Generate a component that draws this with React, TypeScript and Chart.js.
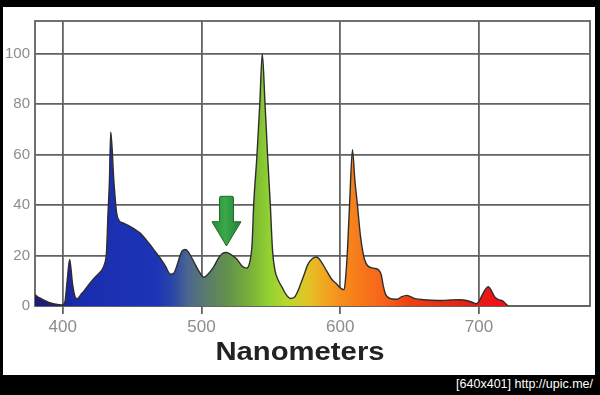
import React, { useEffect, useRef } from "react";
import { Chart, registerables } from "chart.js";

Chart.register(...registerables);

// ---- data ----
const wavelengths = [
  380, 383, 386.5, 390, 394, 399.5, 401.5, 403, 405, 407, 409, 410.5, 413, 415.5, 420, 424, 427.5, 430,
  431.6, 432.6, 433.6, 434.6, 436.9, 438.8, 440.5, 444, 449, 453, 456, 460, 463.5, 467, 470.5, 474,
  477.7, 480, 482, 484, 486, 488.5, 491, 494.5, 499, 501.7, 505, 508.8, 512, 515, 518, 521, 525.6,
  529, 532.5, 535, 536.5, 537.6, 540, 542, 543.8, 545.8, 547.6, 549.6, 551.2, 553, 555.5, 558, 561,
  564, 567, 569.5, 571.5, 574, 576.5, 580, 583, 586, 590.4, 594, 597.6, 601, 602.8, 604, 605, 606.7,
  608.8, 610.5, 612.4, 614.5, 616.8, 618.5, 620.5, 624, 627.6, 629.5, 631, 632.6, 635, 638, 641, 644,
  648, 651, 654, 660, 666, 673, 680, 686, 691, 695, 698, 700, 702, 704.5, 706.7, 709, 711.5, 714, 717,
  719, 721,
];
const intensities = [
  4.5, 3.3, 2.3, 1.4, 0.8, 0.4, 1.5, 9, 18.5, 9, 3.5, 2.9, 4.5, 6.1, 9.3, 11.8, 13.8, 16.5,
  22, 36.6, 49, 69, 49, 37, 34, 32.8, 31.4, 30, 28.8, 26.3, 23.9, 21.3, 18.8, 15.8,
  12.6, 13, 15.5, 19, 21.8, 22.4, 21, 17.5, 13, 11.4, 12.8, 15.5, 18.8, 20.8, 21.2, 20.5, 18.5,
  16, 15, 18, 25, 40, 60, 80, 100, 80, 60, 40, 22, 14, 10, 7.5, 4.5,
  3, 3.5, 6, 8.8, 12.5, 16.3, 18.8, 19.4, 17.8, 13.7, 10.5, 8.6, 6.8, 6.5, 12, 20, 40,
  62, 50, 40, 28, 20, 17, 15.6, 15, 14.3, 12.5, 8, 4.8, 3.2, 2.8, 2.7, 3.6,
  4.2, 3.6, 2.9, 2.5, 2.3, 2.2, 2.4, 2.5, 2.2, 1.5, 0.9, 1.8, 4, 6.5, 7.7, 6, 3.5, 2.5, 2,
  1, 0,
];
const xTickValues = [400, 500, 600, 700];
const yTickValues = [0, 20, 40, 60, 80, 100];
const xMin = 380;
const xMax = 780;
const yMin = 0;
const yMax = 113;
const xTitle = "Nanometers";
const footerText = "[640x401] http://upic.me/";

// spectrum colour stops (wavelength, colour)
const colorStopNm = [380, 398, 410, 468, 480, 490, 502, 518, 535, 548, 562, 576, 588, 600, 615, 632, 650, 680, 705, 720];
const colorStopColor = [
  "#1c1a78", "#1c2290", "#1a2cae", "#1c34b6", "#2c48a6", "#4a6690", "#587a70", "#62904e", "#78b03a",
  "#90d030", "#bcd82e", "#e0c426", "#f2a820", "#f58e1e", "#f7781a", "#f6621a", "#ee4012", "#e62a12",
  "#e81818", "#ff0a14",
];

// green arrow annotation (wavelength, values)
const arrowNm = 518;
const arrowTipValue = 23.8;
const arrowHeadValue = 33.4;
const arrowTopValue = 43.5;

const gridColor = "#626262";
const tickColor = "#8c8c8c";

export default function App() {
  const canvasRef = useRef<HTMLCanvasElement | null>(null);

  useEffect(() => {
    document.body.style.margin = "0";
    const canvas = canvasRef.current;
    if (!canvas) return;

    const framePlugin = {
      id: "frame",
      beforeDatasetsDraw(chart: any) {
        const { ctx, chartArea } = chart;
        ctx.save();
        ctx.strokeStyle = gridColor;
        ctx.lineWidth = 1.8;
        ctx.strokeRect(chartArea.left, chartArea.top, chartArea.right - chartArea.left, chartArea.bottom - chartArea.top);
        ctx.restore();
      },
    };

    const arrowPlugin = {
      id: "arrow",
      afterDatasetsDraw(chart: any) {
        const { ctx, scales } = chart;
        const x = scales.x.getPixelForValue(arrowNm);
        const tip = scales.y.getPixelForValue(arrowTipValue);
        const head = scales.y.getPixelForValue(arrowHeadValue);
        const top = scales.y.getPixelForValue(arrowTopValue);
        const sw = 7;
        const hw = 14.5;
        ctx.save();
        ctx.beginPath();
        ctx.moveTo(x - sw, top + 1.5);
        ctx.quadraticCurveTo(x - sw, top, x - sw + 1.5, top);
        ctx.lineTo(x + sw - 1.5, top);
        ctx.quadraticCurveTo(x + sw, top, x + sw, top + 1.5);
        ctx.lineTo(x + sw, head);
        ctx.lineTo(x + hw, head);
        ctx.lineTo(x, tip);
        ctx.lineTo(x - hw, head);
        ctx.lineTo(x - sw, head);
        ctx.closePath();
        const g = ctx.createLinearGradient(x - hw, 0, x + hw, 0);
        g.addColorStop(0, "#2a8a38");
        g.addColorStop(0.45, "#3aa84a");
        g.addColorStop(1, "#23803a");
        ctx.fillStyle = g;
        ctx.fill();
        ctx.strokeStyle = "#1e6a2c";
        ctx.lineWidth = 1;
        ctx.stroke();
        ctx.restore();
      },
    };

    const chart = new Chart(canvas, {
      type: "line",
      data: {
        datasets: [
          {
            data: wavelengths.map((w, i) => ({ x: w, y: intensities[i] })),
            borderColor: "#2e2e2e",
            borderWidth: 1.4,
            pointRadius: 0,
            cubicInterpolationMode: "monotone",
            fill: "origin",
            backgroundColor: (c: any) => {
              const ch = c.chart;
              const xs = ch.scales && ch.scales.x;
              if (!xs || !ch.chartArea) return "#1d36b8";
              const x0 = xs.getPixelForValue(colorStopNm[0]);
              const x1 = xs.getPixelForValue(colorStopNm[colorStopNm.length - 1]);
              if (!Number.isFinite(x0) || !Number.isFinite(x1) || x1 === x0) return "#1d36b8";
              const g = ch.ctx.createLinearGradient(x0, 0, x1, 0);
              const span = colorStopNm[colorStopNm.length - 1] - colorStopNm[0];
              colorStopNm.forEach((nm, i) => g.addColorStop((nm - colorStopNm[0]) / span, colorStopColor[i]));
              return g;
            },
          },
        ],
      },
      options: {
        responsive: false,
        animation: false,
        layout: { padding: { top: 2, right: 5, left: 0, bottom: 0 } },
        plugins: { legend: { display: false }, tooltip: { enabled: false } },
        scales: {
          x: {
            type: "linear",
            min: xMin,
            max: xMax,
            afterFit: (s: any) => {
              s.height = 69;
            },
            afterBuildTicks: (s: any) => {
              s.ticks = xTickValues.map((v) => ({ value: v }));
            },
            ticks: {
              color: tickColor,
              font: { family: "'Liberation Sans', Arial, sans-serif", size: 17 },
              padding: 3,
              maxRotation: 0,
              autoSkip: false,
            },
            grid: { color: gridColor, lineWidth: 1.8, tickLength: 8, drawTicks: true },
            border: { display: false },
          },
          y: {
            min: yMin,
            max: yMax,
            afterFit: (s: any) => {
              s.width = 32;
            },
            afterBuildTicks: (s: any) => {
              s.ticks = yTickValues.map((v) => ({ value: v }));
            },
            ticks: {
              color: tickColor,
              font: { family: "'Liberation Sans', Arial, sans-serif", size: 15 },
              padding: 5,
            },
            grid: { color: gridColor, lineWidth: 1.8, drawTicks: false },
            border: { display: false },
          },
        },
      },
      plugins: [framePlugin, arrowPlugin],
    } as any);

    return () => chart.destroy();
  }, []);

  return (
    <div style={{ position: "fixed", left: 0, top: 0, width: 600, height: 395, background: "#000", overflow: "hidden" }}>
      <div style={{ position: "absolute", left: 3, top: 7, width: 592, height: 368, background: "#fff" }}>
        <canvas ref={canvasRef} width={592} height={368} style={{ display: "block" }} />
        <div
          style={{
            position: "absolute",
            left: 0,
            width: 594,
            top: 332,
            textAlign: "center",
            fontFamily: "'Liberation Sans', Arial, sans-serif",
            fontWeight: "bold",
            fontSize: 25,
            lineHeight: "25px",
            color: "#222",
            transform: "scaleX(1.17)",
            transformOrigin: "297px 50%",
          }}
        >
          {xTitle}
        </div>
      </div>
      <div
        style={{
          position: "absolute",
          right: 7,
          top: 376,
          fontFamily: "'Liberation Sans', Arial, sans-serif",
          fontSize: 12.5,
          lineHeight: "16px",
          color: "#fff",
          whiteSpace: "nowrap",
        }}
      >
        {footerText}
      </div>
    </div>
  );
}
